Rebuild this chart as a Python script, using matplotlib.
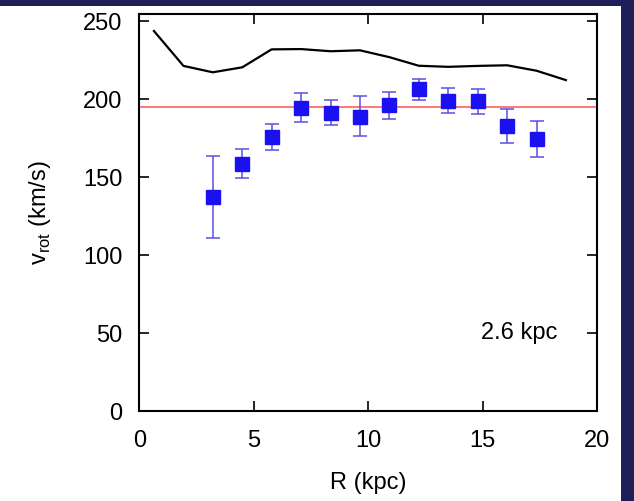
import matplotlib
matplotlib.use("Agg")
import matplotlib.pyplot as plt
import numpy as np
from matplotlib.patches import Rectangle

plt.rcParams.update({'font.size': 17, 'font.family': ['Liberation Sans', 'DejaVu Sans']})

# rotation curve model (black line)
r_model = [0.64, 1.93, 3.21, 4.50, 5.78, 7.07, 8.36, 9.64, 10.93, 12.21, 13.50, 14.79, 16.07, 17.36, 18.64]
v_model = [243.8, 221.4, 217.3, 220.5, 232.0, 232.2, 230.8, 231.4, 227.0, 221.5, 220.8, 221.4, 221.8, 218.3, 212.3]

# measured points with asymmetric errors
r_obs = [3.21, 4.50, 5.78, 7.07, 8.36, 9.64, 10.93, 12.21, 13.50, 14.79, 16.07, 17.36]
v_obs = [137.2, 158.7, 175.7, 194.6, 191.4, 188.8, 196.1, 206.5, 199.1, 198.7, 182.8, 174.6]
v_hi = [163.4, 168.2, 184.3, 203.9, 199.6, 202.2, 204.7, 213.0, 207.1, 206.5, 193.5, 185.8]
v_lo = [111.0, 149.7, 167.7, 185.6, 183.2, 176.3, 187.3, 199.4, 191.0, 190.3, 171.8, 163.2]

v_flat = 194.8
label = "2.6 kpc"

fig = plt.figure(figsize=(6.34, 5.01), dpi=100)
fig.patch.set_facecolor('#1c1f58')
fig.patches.append(Rectangle((0, 0), 621 / 634, 495 / 501, transform=fig.transFigure,
                             facecolor='white', edgecolor='none', zorder=-5))

ax = fig.add_axes([139.3 / 634, 90 / 501, (597 - 139.3) / 634, (411 - 14) / 501])
ax.set_facecolor('white')

ax.axhline(v_flat, color='#ff7878', lw=1.4, zorder=1)
ax.plot(r_model, v_model, color='black', lw=1.6, zorder=2)

v_obs_a = np.array(v_obs)
yerr = [v_obs_a - np.array(v_lo), np.array(v_hi) - v_obs_a]
ax.errorbar(r_obs, v_obs, yerr=yerr, fmt='s', color='#1a10f0', ms=9.5,
            ecolor='#5a50e0', elinewidth=1.1, capsize=5, capthick=1.1, zorder=3)

ax.text(16.6, 50, label, ha='center', va='center', fontsize=17)

ax.set_xlim(0, 20)
ax.set_ylim(0, 254.7)
ax.set_xticks([0, 5, 10, 15, 20])
ax.set_yticks([0, 50, 100, 150, 200, 250])
ax.tick_params(direction='in', length=7, width=1.2, top=True, right=True)
ax.tick_params(axis='x', pad=14)
ax.tick_params(axis='y', pad=12)
for s in ax.spines.values():
    s.set_linewidth(1.5)

ax.set_xlabel('R (kpc)', labelpad=14)
ax.set_ylabel(r'v$_{\mathregular{rot}}$ (km/s)', labelpad=22)

fig.savefig('out.png', dpi=100, facecolor=fig.get_facecolor())
